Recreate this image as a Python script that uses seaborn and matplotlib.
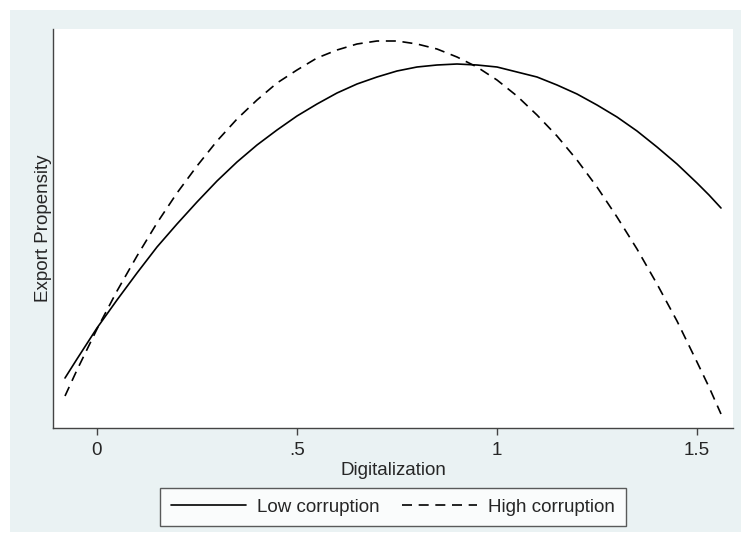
import pandas as pd
import matplotlib.pyplot as plt
import seaborn as sns
from matplotlib.patches import Rectangle

# values (predicted export propensity, y axis unlabelled)
digitalization = [-0.08, -0.05, 0.0, 0.05, 0.1, 0.15, 0.2, 0.25, 0.3, 0.35, 0.4, 0.45,
                  0.5, 0.55, 0.6, 0.65, 0.7, 0.75, 0.8, 0.85, 0.9, 0.95, 1.0, 1.05,
                  1.1, 1.15, 1.2, 1.25, 1.3, 1.35, 1.4, 1.45, 1.5, 1.53, 1.56]
low_corruption = [0.050, 0.069, 0.100, 0.128, 0.155, 0.181, 0.204, 0.226, 0.247, 0.266,
                  0.283, 0.298, 0.312, 0.324, 0.335, 0.344, 0.351, 0.357, 0.361, 0.363,
                  0.364, 0.363, 0.361, 0.356, 0.351, 0.343, 0.334, 0.323, 0.311, 0.297,
                  0.281, 0.264, 0.245, 0.233, 0.220]
high_corruption = [0.032, 0.058, 0.099, 0.137, 0.172, 0.205, 0.235, 0.262, 0.287, 0.309,
                   0.328, 0.345, 0.358, 0.370, 0.378, 0.384, 0.387, 0.387, 0.384, 0.379,
                   0.371, 0.361, 0.348, 0.332, 0.313, 0.292, 0.268, 0.241, 0.211, 0.179,
                   0.144, 0.107, 0.066, 0.041, 0.014]
xticks = [0, 0.5, 1, 1.5]
xtick_labels = ["0", ".5", "1", "1.5"]

df = pd.DataFrame({
    "Digitalization": digitalization * 2,
    "Export Propensity": low_corruption + high_corruption,
    "group": ["Low corruption"] * len(digitalization) + ["High corruption"] * len(digitalization),
})

sns.set_style("white")
plt.rcParams["font.family"] = ["Liberation Sans", "DejaVu Sans"]

fig = plt.figure(figsize=(7.41, 5.42), dpi=100)
fig.patches.append(Rectangle((10 / 741, 10 / 542), 731 / 741, 522 / 542,
                             transform=fig.transFigure, facecolor="#eaf2f3",
                             edgecolor="none", zorder=-10))
ax = fig.add_axes([53 / 741, 114 / 542, 680 / 741, 399 / 542])
ax.set_facecolor("white")

sns.lineplot(data=df, x="Digitalization", y="Export Propensity", hue="group",
             style="group", palette={"Low corruption": "black", "High corruption": "black"},
             dashes={"Low corruption": "", "High corruption": (6, 4)},
             linewidth=1.2, ax=ax)

ax.set_xlim(-0.11, 1.59)
ax.set_ylim(0, 0.399)
ax.set_xticks(xticks)
ax.set_xticklabels(xtick_labels, fontsize=13.5)
ax.set_yticks([])
ax.set_xlabel("Digitalization", fontsize=13.5, labelpad=2)
ax.set_ylabel("Export Propensity", fontsize=13.5, labelpad=1)
ax.tick_params(axis="x", direction="out", length=5, width=1, color="#444444", bottom=True, pad=5)
for side in ["top", "right"]:
    ax.spines[side].set_visible(False)
for side in ["left", "bottom"]:
    ax.spines[side].set_color("#444444")
    ax.spines[side].set_linewidth(1)

leg = ax.legend(loc="center", bbox_to_anchor=(0.5, -0.198), ncol=2, fontsize=13.5,
                handlelength=4.0, columnspacing=1.2, frameon=True, fancybox=False,
                borderpad=0.55, handletextpad=0.6)
leg.get_frame().set_edgecolor("#333333")
leg.get_frame().set_linewidth(1)

fig.savefig("out.png", dpi=100)
